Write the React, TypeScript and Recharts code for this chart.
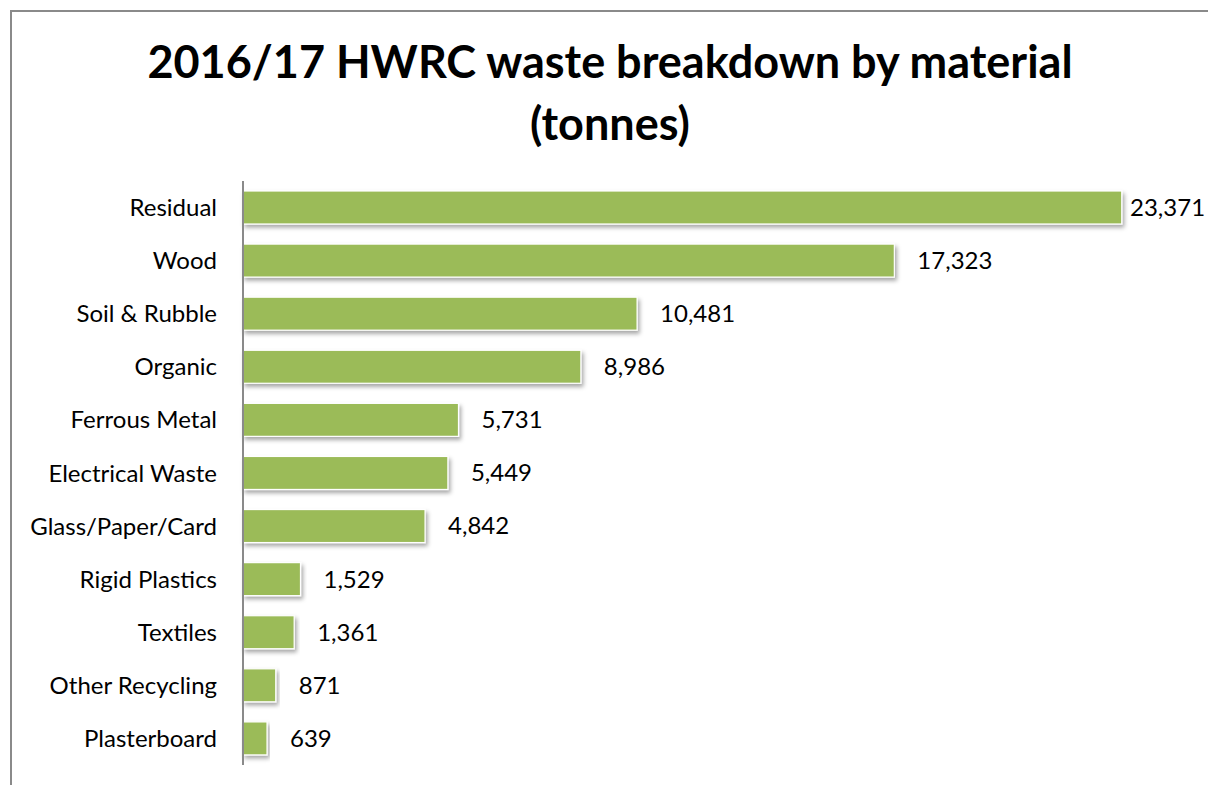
import React from 'react';
import { BarChart, Bar, XAxis, YAxis, LabelList } from 'recharts';

const categories = [
    'Residual', 'Wood', 'Soil & Rubble', 'Organic', 'Ferrous Metal', 'Electrical Waste',
    'Glass/Paper/Card', 'Rigid Plastics', 'Textiles', 'Other Recycling', 'Plasterboard'
];
const tonnes = [23371, 17323, 10481, 8986, 5731, 5449, 4842, 1529, 1361, 871, 639];

const data = categories.map((name, i) => ({ name, tonnes: tonnes[i] }));

const FONT = 'Lato, "Open Sans", sans-serif';
const WIDTH = 1208;
const HEIGHT = 785;

const ShadowBar = (props: any) => {
    const { x, y, width, height } = props;
    if (!width || width <= 0) return null;
    return (
        <rect x={x} y={y} width={width} height={height} fill="#9BBB59" stroke="#ffffff" strokeWidth={1.2} filter="url(#barShadow)" />
    );
};

const ValueLabel = (props: any) => {
    const { x, y, width, height, value } = props;
    const text = Number(value).toLocaleString('en-GB');
    // keep the label inside the chart, like Excel does for the longest bar
    const tx = Math.min(x + width + 23, WIDTH - 78);
    return (
        <text x={tx} y={y + height / 2} dy="0.35em" fill="#000" fontSize={24} fontFamily={FONT}>
            {text}
        </text>
    );
};

export default function App() {
    return (
        <div style={{ position: 'absolute', left: 0, top: 0, width: WIDTH, height: HEIGHT, overflow: 'hidden', background: '#fff' }}>
            <svg width={0} height={0} style={{ position: 'absolute' }}>
                <defs>
                    <filter id="barShadow" x="-5%" y="-20%" width="115%" height="160%">
                        <feDropShadow dx={2} dy={3} stdDeviation={2} floodColor="#000" floodOpacity={0.35} />
                    </filter>
                </defs>
            </svg>
            <div style={{ position: 'absolute', left: 10, top: 10, width: 1400, height: 1000, border: '2px solid #8a8a8a' }} />
            <div style={{
                position: 'absolute', left: 0, top: 30, width: 1220, textAlign: 'center',
                fontFamily: FONT, fontWeight: 700, fontSize: 45, lineHeight: '62px', color: '#000'
            }}>
                2016/17 HWRC waste breakdown by material<br />(tonnes)
            </div>
            <div style={{ position: 'absolute', left: 0, top: 0 }}>
                <BarChart
                    width={WIDTH}
                    height={HEIGHT}
                    data={data}
                    layout="vertical"
                    margin={{ top: 181, right: 25, bottom: 20, left: 10 }}
                >
                    <XAxis type="number" domain={[0, 25000]} hide />
                    <YAxis
                        type="category"
                        dataKey="name"
                        width={233}
                        axisLine={{ stroke: '#8a8a8a', strokeWidth: 2 }}
                        tickLine={false}
                        tickSize={0}
                        tickMargin={26}
                        interval={0}
                        tick={{ fill: '#000', fontSize: 24, fontFamily: FONT }}
                    />
                    <Bar dataKey="tonnes" barSize={33} shape={<ShadowBar />} isAnimationActive={false}>
                        <LabelList dataKey="tonnes" content={<ValueLabel />} />
                    </Bar>
                </BarChart>
            </div>
        </div>
    );
}
